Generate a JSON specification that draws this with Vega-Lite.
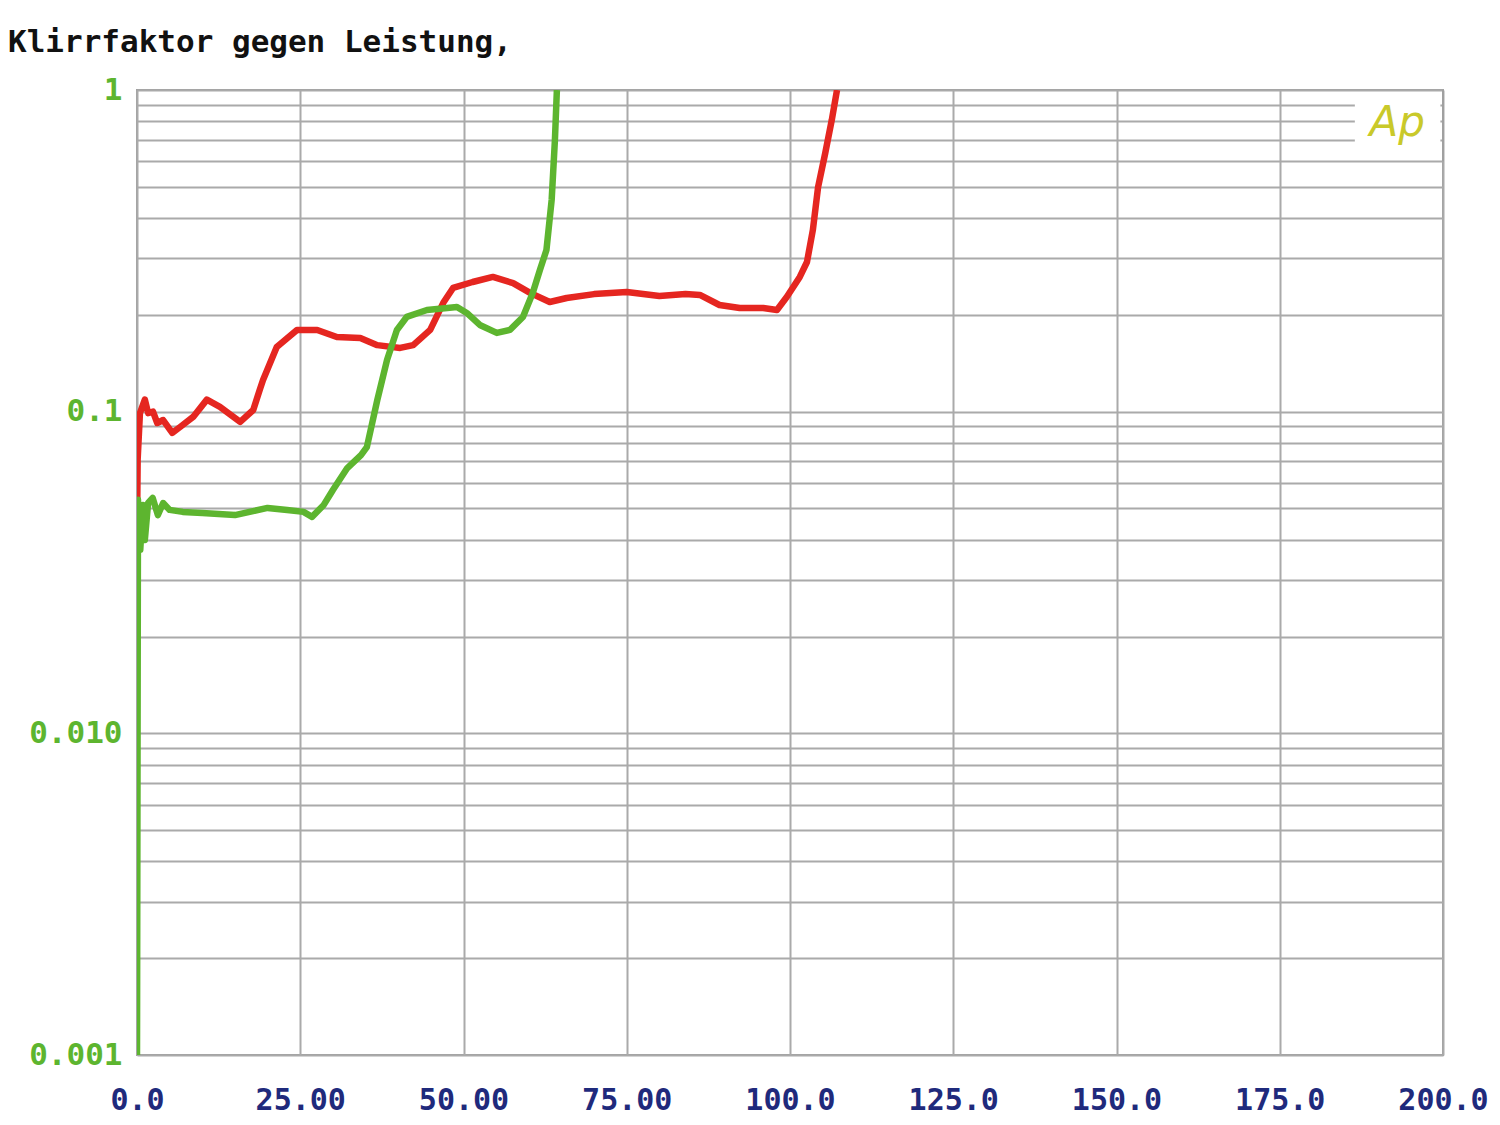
{
  "$schema": "https://vega.github.io/schema/vega-lite/v6.json",
  "width": 1306,
  "height": 965,
  "autosize": {"type": "none"},
  "padding": {"left": 137, "top": 90, "right": 57, "bottom": 70},
  "background": "white",
  "title": {
    "text": "Klirrfaktor gegen Leistung,",
    "anchor": "start",
    "frame": "group",
    "dx": -129,
    "offset": 36,
    "dy": 52,
    "baseline": "bottom",
    "font": "DejaVu Sans Mono",
    "fontSize": 31,
    "fontWeight": "bold",
    "color": "#111111"
  },
  "config": {
    "view": {"stroke": "#a0a0a0", "strokeWidth": 2}
  },
  "datasets": {
    "curves": [
      {"ch": "red", "x": 0, "y": 0.042},
      {"ch": "red", "x": 0.1, "y": 0.071},
      {"ch": "red", "x": 0.45, "y": 0.099},
      {"ch": "red", "x": 1.2, "y": 0.109},
      {"ch": "red", "x": 1.7, "y": 0.099},
      {"ch": "red", "x": 2.45, "y": 0.1},
      {"ch": "red", "x": 3.1, "y": 0.0922},
      {"ch": "red", "x": 4.0, "y": 0.0942},
      {"ch": "red", "x": 5.4, "y": 0.0859},
      {"ch": "red", "x": 6.6, "y": 0.0896},
      {"ch": "red", "x": 8.6, "y": 0.0963},
      {"ch": "red", "x": 10.7, "y": 0.109},
      {"ch": "red", "x": 12.7, "y": 0.1035},
      {"ch": "red", "x": 15.8, "y": 0.0929},
      {"ch": "red", "x": 17.8, "y": 0.1012},
      {"ch": "red", "x": 18.8, "y": 0.117},
      {"ch": "red", "x": 19.3, "y": 0.1255},
      {"ch": "red", "x": 21.4, "y": 0.159},
      {"ch": "red", "x": 24.5, "y": 0.1795},
      {"ch": "red", "x": 27.6, "y": 0.1795},
      {"ch": "red", "x": 30.6, "y": 0.1707},
      {"ch": "red", "x": 34.2, "y": 0.1695},
      {"ch": "red", "x": 36.8, "y": 0.161},
      {"ch": "red", "x": 40.3, "y": 0.1578},
      {"ch": "red", "x": 42.3, "y": 0.161},
      {"ch": "red", "x": 44.9, "y": 0.1795},
      {"ch": "red", "x": 46.9, "y": 0.218},
      {"ch": "red", "x": 48.4, "y": 0.2425},
      {"ch": "red", "x": 51.4, "y": 0.253},
      {"ch": "red", "x": 54.5, "y": 0.2624},
      {"ch": "red", "x": 57.6, "y": 0.251},
      {"ch": "red", "x": 60.2, "y": 0.234},
      {"ch": "red", "x": 63.2, "y": 0.2193},
      {"ch": "red", "x": 65.8, "y": 0.2256},
      {"ch": "red", "x": 70, "y": 0.232},
      {"ch": "red", "x": 75, "y": 0.2355},
      {"ch": "red", "x": 80, "y": 0.229},
      {"ch": "red", "x": 84, "y": 0.232},
      {"ch": "red", "x": 86.2, "y": 0.2306},
      {"ch": "red", "x": 89.2, "y": 0.2146},
      {"ch": "red", "x": 92.3, "y": 0.21},
      {"ch": "red", "x": 95.9, "y": 0.21},
      {"ch": "red", "x": 98, "y": 0.207},
      {"ch": "red", "x": 99.5, "y": 0.2272},
      {"ch": "red", "x": 101.5, "y": 0.2624},
      {"ch": "red", "x": 102.6, "y": 0.292},
      {"ch": "red", "x": 103.5, "y": 0.367},
      {"ch": "red", "x": 104.3, "y": 0.499},
      {"ch": "red", "x": 105.4, "y": 0.637},
      {"ch": "red", "x": 106.4, "y": 0.807},
      {"ch": "red", "x": 107.2, "y": 1.0},
      {"ch": "green", "x": 0, "y": 0.001},
      {"ch": "green", "x": 0.15, "y": 0.0532},
      {"ch": "green", "x": 0.5, "y": 0.0372},
      {"ch": "green", "x": 0.9, "y": 0.0513},
      {"ch": "green", "x": 1.2, "y": 0.0399},
      {"ch": "green", "x": 1.7, "y": 0.052},
      {"ch": "green", "x": 2.4, "y": 0.0539},
      {"ch": "green", "x": 3.2, "y": 0.0477},
      {"ch": "green", "x": 4.0, "y": 0.052},
      {"ch": "green", "x": 5.0, "y": 0.0495},
      {"ch": "green", "x": 7, "y": 0.0488},
      {"ch": "green", "x": 10, "y": 0.0484},
      {"ch": "green", "x": 15, "y": 0.0477},
      {"ch": "green", "x": 20, "y": 0.0502},
      {"ch": "green", "x": 23, "y": 0.0495},
      {"ch": "green", "x": 25.5, "y": 0.0488},
      {"ch": "green", "x": 26.8, "y": 0.0471},
      {"ch": "green", "x": 28.6, "y": 0.0513},
      {"ch": "green", "x": 30, "y": 0.0571},
      {"ch": "green", "x": 32.2, "y": 0.0668},
      {"ch": "green", "x": 34.3, "y": 0.0733},
      {"ch": "green", "x": 35.2, "y": 0.0776},
      {"ch": "green", "x": 36.8, "y": 0.1087},
      {"ch": "green", "x": 38.3, "y": 0.145},
      {"ch": "green", "x": 39.8, "y": 0.1795},
      {"ch": "green", "x": 41.3, "y": 0.197},
      {"ch": "green", "x": 44.4, "y": 0.207},
      {"ch": "green", "x": 47.5, "y": 0.21},
      {"ch": "green", "x": 49, "y": 0.2116},
      {"ch": "green", "x": 50.5, "y": 0.2027},
      {"ch": "green", "x": 52.5, "y": 0.186},
      {"ch": "green", "x": 55.1, "y": 0.1757},
      {"ch": "green", "x": 57.1, "y": 0.1795},
      {"ch": "green", "x": 59.1, "y": 0.197},
      {"ch": "green", "x": 60.6, "y": 0.234},
      {"ch": "green", "x": 61.7, "y": 0.2756},
      {"ch": "green", "x": 62.7, "y": 0.318},
      {"ch": "green", "x": 63.5, "y": 0.455},
      {"ch": "green", "x": 64, "y": 0.7},
      {"ch": "green", "x": 64.3, "y": 1.0}
    ]
  },
  "layer": [
    {
      "data": {"name": "curves"},
      "mark": {"type": "line", "strokeWidth": 6.5, "clip": true, "strokeJoin": "round"},
      "encoding": {
        "x": {
          "field": "x", "type": "quantitative",
          "scale": {"domain": [0, 200], "nice": false},
          "axis": {
            "title": null,
            "values": [0, 25, 50, 75, 100, 125, 150, 175, 200],
            "labelExpr": "datum.value == 0 ? '0.0' : (datum.value < 100 ? format(datum.value, '.2f') : format(datum.value, '.1f'))",
            "grid": true, "gridColor": "#aaaaaa", "gridWidth": 2,
            "domain": false, "ticks": false,
            "labelFont": "DejaVu Sans Mono", "labelFontSize": 30, "labelFontWeight": "bold",
            "labelColor": "#1f2a7c", "labelPadding": 30,
            "labelFlush": false, "labelOverlap": false, "labelBound": false
          }
        },
        "y": {
          "field": "y", "type": "quantitative",
          "scale": {"type": "log", "domain": [0.001, 1], "nice": false},
          "axis": {
            "title": null,
            "values": [0.001, 0.002, 0.003, 0.004, 0.005, 0.006, 0.007, 0.008, 0.009, 0.01, 0.02, 0.03, 0.04, 0.05, 0.06, 0.07, 0.08, 0.09, 0.1, 0.2, 0.3, 0.4, 0.5, 0.6, 0.7, 0.8, 0.9, 1],
            "labelExpr": "datum.value == 1 ? '1' : (datum.value == 0.1 ? '0.1' : (datum.value == 0.01 ? '0.010' : (datum.value == 0.001 ? '0.001' : '')))",
            "grid": true, "gridColor": "#aaaaaa", "gridWidth": 2,
            "domain": false, "ticks": false,
            "labelFont": "DejaVu Sans Mono", "labelFontSize": 31, "labelFontWeight": "bold",
            "labelColor": "#5db52f", "labelPadding": 15,
            "labelFlush": false, "labelOverlap": false, "labelBound": false
          }
        },
        "color": {
          "field": "ch", "type": "nominal",
          "scale": {"domain": ["red", "green"], "range": ["#e52620", "#5db52f"]},
          "legend": null
        }
      }
    },
    {
      "data": {"values": [{"x0": 186.5, "x1": 199.6, "y0": 0.65, "y1": 0.985}]},
      "mark": {"type": "rect", "fill": "white"},
      "encoding": {
        "x": {"field": "x0", "type": "quantitative", "axis": {"title": null}},
        "x2": {"field": "x1"},
        "y": {"field": "y0", "type": "quantitative", "axis": {"title": null}},
        "y2": {"field": "y1"}
      }
    },
    {
      "data": {"values": [{"xe": 200, "y0": 0.6, "y1": 1}]},
      "mark": {"type": "rule", "color": "#a0a0a0", "strokeWidth": 2},
      "encoding": {
        "x": {"field": "xe", "type": "quantitative", "axis": {"title": null}},
        "y": {"field": "y0", "type": "quantitative", "axis": {"title": null}},
        "y2": {"field": "y1"}
      }
    },
    {
      "data": {"values": [{"t": "Ap", "x": 193, "y": 0.79}]},
      "mark": {"type": "text", "font": "DejaVu Sans", "fontStyle": "italic", "fontSize": 42, "color": "#c9c92a", "align": "center", "baseline": "middle"},
      "encoding": {
        "x": {"field": "x", "type": "quantitative", "axis": {"title": null}},
        "y": {"field": "y", "type": "quantitative", "axis": {"title": null}},
        "text": {"field": "t"}
      }
    }
  ]
}
